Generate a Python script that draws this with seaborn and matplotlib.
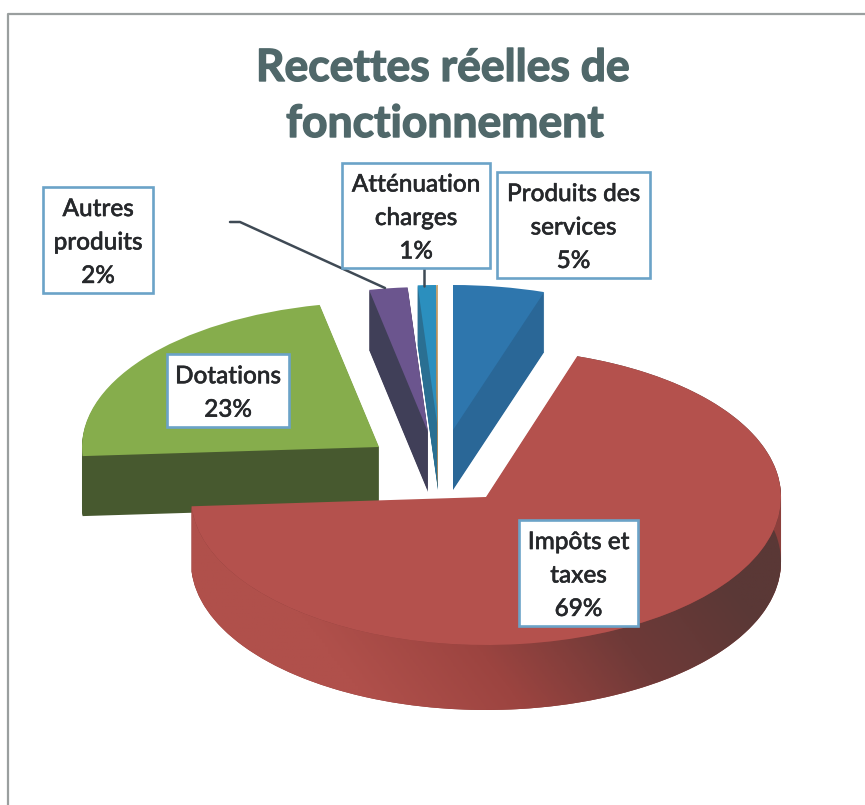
import numpy as np
import seaborn as sns
import matplotlib
matplotlib.use('Agg')
import matplotlib.pyplot as plt
import matplotlib.patheffects as pe
from matplotlib.patches import Wedge, Rectangle, PathPatch
from matplotlib.path import Path
from matplotlib.transforms import Affine2D

# valeurs (le dernier est le petit filet sans etiquette)
categories = ['Produits des\nservices', 'Impôts et\ntaxes', 'Dotations', 'Autres\nproduits', 'Atténuation\ncharges', '']
values = [5.0, 69.0, 22.8, 2.1, 1.0, 0.1]
percent_labels = ['5%', '69%', '23%', '2%', '1%', '']

top_colors = ['#2e76ad', '#b4514d', '#86ad4c', '#6b558e', '#2b8fbe', '#c9a877']
wall_colors = ['#2a6797', '#8c3f3c', '#47592f', '#403f58', '#2a6f92', '#a88a60']

# pointe de chaque part en pixels (eclatement)
tip_x = [453, 486, 379, 428, 438, 438]
tip_y = [430, 497, 447, 432, 430, 430]
depths = [60, 65, 60, 60, 60, 60]
radius_x = [295, 295, 297, 295, 295, 295]
radius_y = [145, 148, 145, 145, 145, 145]
box_x = [(497, 650), (519, 638), (167, 289), (43, 153), (342, 490)]
box_y = [(172, 278), (520, 626), (354, 427), (187, 293), (163, 268)]
draw_order = [2, 3, 4, 5, 0, 1]

H = 805

sns.set_theme(style='white')
plt.rcParams['font.family'] = ['Lato', 'DejaVu Sans']

fig = plt.figure(figsize=(8.65, 8.05), dpi=100)
ax = fig.add_axes([0, 0, 1, 1])
ax.set_xlim(0, 865)
ax.set_ylim(0, H)
ax.axis('off')

# cadre du scan
ax.plot([8, 8, 865], [0, H - 14, H - 14], color='#9a9f9f', lw=1.6, zorder=1)

# angles cumules, sens horaire depuis le haut
shares = np.array(values) / sum(values) * 360
ends = np.cumsum(shares)
starts = ends - shares

side_cmap = sns.blend_palette(['#b0504b', '#9c4440', '#6f3a38', '#5a3836'], as_cmap=True)

z = 2
for i in draw_order:
    tx, ty = tip_x[i], H - tip_y[i]
    rx, ry, depth = radius_x[i], radius_y[i], depths[i]
    a1, a2 = 90 - ends[i], 90 - starts[i]
    # epaisseur : la meme part repetee vers le bas
    for d in range(depth, 0, -1):
        tr = Affine2D().scale(rx, ry).translate(tx, ty - d) + ax.transData
        ax.add_patch(Wedge((0, 0), 1, a1, a2, transform=tr, color=wall_colors[i], lw=0, zorder=z))
    z += 1
    if categories[i].startswith('Imp'):
        # degrade sur le flanc de la grande part
        th = np.radians(np.linspace(a1, a2, 300))
        ex = tx + rx * np.cos(th)
        ey = ty + ry * np.sin(th)
        verts = list(zip(ex, ey)) + list(zip(ex[::-1], ey[::-1] - depth))
        clip = PathPatch(Path(verts + [verts[0]]), transform=ax.transData, fc='none', ec='none')
        ax.add_patch(clip)
        gx, gy = np.meshgrid(np.linspace(0, 1, 200), np.linspace(0, 1, 100))
        grad = np.clip(gx * 1.3 - 0.22 + (gy - 0.3) * 0.6, 0, 1)
        im = ax.imshow(grad, extent=(tx - rx, tx + rx, ty - ry - depth, ty + ry), origin='lower',
                       cmap=side_cmap, aspect='auto', zorder=z)
        im.set_clip_path(clip)
        ax.set_xlim(0, 865)
        ax.set_ylim(0, H)
        z += 1
    tr = Affine2D().scale(rx, ry).translate(tx, ty) + ax.transData
    ax.add_patch(Wedge((0, 0), 1, a1, a2, transform=tr, color=top_colors[i], lw=0, zorder=z))
    z += 1

# traits de rappel
ax.plot([230, 240, 385], [H - 222, H - 222, H - 288], color='#3f4a55', lw=1.8, zorder=z, solid_capstyle='round')
ax.plot([424, 424], [H - 268, H - 286], color='#3f4a55', lw=1.8, zorder=z)
z += 1

# etiquettes
for i in range(5):
    x0, x1 = box_x[i]
    y0, y1 = box_y[i]
    ax.add_patch(Rectangle((x0, H - y1), x1 - x0, y1 - y0, fc='white', ec='#6ba3c8', lw=1.9, zorder=z))
    txt = categories[i] + '\n' + percent_labels[i]
    t = ax.text((x0 + x1) / 2, H - (y0 + y1) / 2 - 2, txt, ha='center', va='center', fontsize=17.5,
                fontweight='medium', color='#26282b', linespacing=1.55, zorder=z + 1)
    t.set_path_effects([pe.withStroke(linewidth=0.35, foreground='#26282b')])

title_lines = ['Recettes réelles de', 'fonctionnement']
title_x = [443, 445]
title_y = [68, 124]
for line, x, y in zip(title_lines, title_x, title_y):
    t = ax.text(x, H - y, line, ha='center', va='center', fontsize=32,
                fontweight='bold', color='#50686a')
    t.set_path_effects([pe.withStroke(linewidth=1.0, foreground='#50686a')])

fig.savefig('out.png', dpi=100)
